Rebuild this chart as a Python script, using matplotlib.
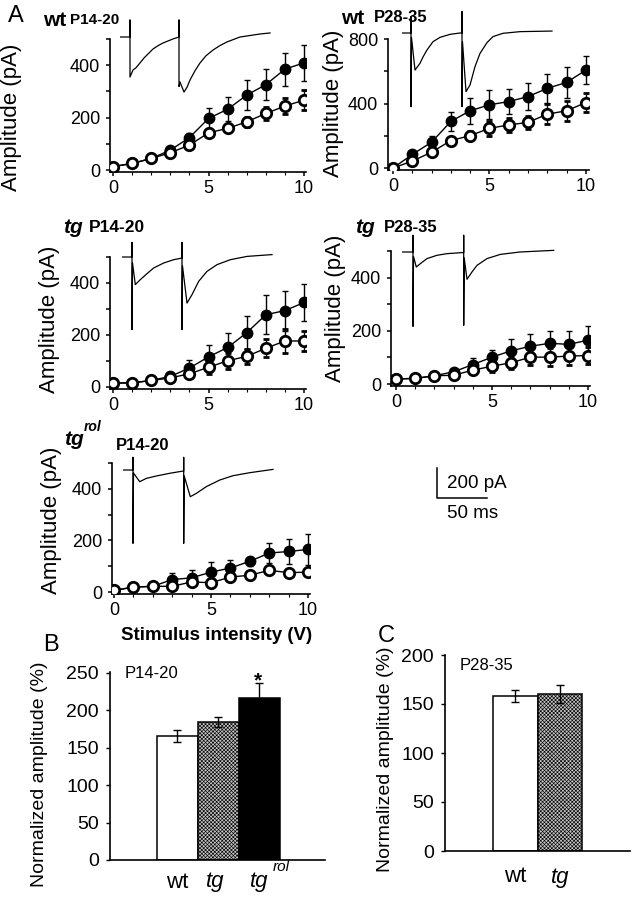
import numpy as np
import matplotlib.pyplot as plt

plt.rcParams['font.family'] = ['Liberation Sans', 'DejaVu Sans']
plt.rcParams['hatch.linewidth'] = 0.45

W, H = 636, 899

# stimulus intensity (V)
stim = np.arange(0, 11)

# panel A amplitudes (pA), filled and open symbols, with error bars
wt14_filled = [13, 25, 44, 76, 124, 197, 232, 286, 326, 385, 409]
wt14_filled_err = [3, 3, 4, 6, 16, 38, 45, 58, 60, 63, 70]
wt14_open = [13, 25, 44, 66, 95, 142, 159, 184, 216, 244, 267]
wt14_open_err = [2, 2, 3, 5, 8, 12, 15, 19, 25, 30, 38]

wt28_filled = [0, 84, 160, 289, 355, 392, 412, 443, 494, 531, 607]
wt28_filled_err = [3, 10, 37, 60, 82, 90, 80, 86, 90, 94, 86]
wt28_open = [0, 43, 98, 170, 201, 246, 267, 283, 334, 355, 406]
wt28_open_err = [2, 8, 12, 18, 28, 45, 45, 40, 60, 62, 60]

tg14_filled = [15, 16, 25, 41, 73, 116, 152, 209, 278, 294, 325]
tg14_filled_err = [2, 2, 4, 8, 30, 46, 57, 63, 76, 77, 72]
tg14_open = [15, 16, 25, 35, 51, 76, 101, 118, 149, 177, 177]
tg14_open_err = [2, 2, 3, 6, 12, 25, 30, 30, 35, 45, 40]

tg28_filled = [19, 21, 31, 46, 73, 101, 125, 142, 153, 149, 165]
tg28_filled_err = [2, 2, 3, 8, 25, 28, 44, 46, 47, 50, 53]
tg28_open = [19, 21, 31, 33, 52, 67, 80, 101, 101, 105, 107]
tg28_open_err = [2, 2, 3, 5, 10, 20, 25, 30, 35, 35, 33]

rol_filled = [6, 19, 22, 48, 55, 77, 93, 119, 151, 157, 165]
rol_filled_err = [2, 2, 3, 26, 31, 39, 30, 17, 39, 49, 61]
rol_open = [6, 19, 22, 22, 39, 36, 58, 65, 84, 75, 77]
rol_open_err = [2, 2, 3, 5, 10, 10, 10, 10, 12, 12, 10]

# example traces: time (ms), current (pA) relative to baseline
tr_wt14_t = [0, 10, 10, 10, 13, 16, 20, 24, 27, 33, 38, 43, 53, 59, 59, 59, 60, 64, 67, 70, 75, 80, 86, 93, 100, 107, 120, 140, 150]
tr_wt14_i = [0, 0, 113, -267, -220, -205, -173, -140, -120, -80, -58, -40, -13, 0, 113, -330, -300, -367, -335, -287, -225, -173, -125, -87, -57, -33, 0, 20, 27]
tr_wt28_t = [0, 9, 9, 9, 9.5, 13, 18, 21, 25, 31, 38, 48, 58, 60, 60, 60, 60.5, 64, 68, 73, 78, 85, 91, 101, 118, 150]
tr_wt28_i = [0, 0, 109, -491, -30, -247, -202, -160, -113, -58, -29, -9, 0, 0, 142, -491, -60, -391, -347, -224, -136, -64, -24, -2, 9, 13]
tr_tg14_t = [0, 10, 10, 10, 10.5, 13.3, 18.3, 25, 31.7, 41.7, 51.7, 60, 60, 60, 60.5, 65, 70, 76.7, 85, 95, 108.3, 125, 150]
tr_tg14_i = [0, 0, 97, -484, -40, -184, -151, -111, -73, -40, -18, -7, 97, -484, -60, -307, -251, -162, -96, -51, -18, 4, 16]
tr_tg28_t = [0, 11, 11, 11, 11.5, 14.3, 18.3, 25, 35, 45, 60, 61.7, 61.7, 61.7, 62.2, 65, 70, 75, 85, 98.3, 118, 151.7]
tr_tg28_i = [0, 0, 111, -496, -30, -100, -78, -44, -22, -11, -4, -4, 111, -489, -40, -182, -133, -89, -44, -16, 0, 11]
tr_rol_t = [0, 10, 10, 10, 10.5, 16.7, 23.3, 33.3, 46.7, 60, 60.7, 60.7, 60.7, 61.2, 67.3, 73.3, 83.3, 96.7, 110, 126.7, 150]
tr_rol_i = [0, 0, 84, -489, -20, -78, -56, -40, -22, -7, -7, 84, -489, -40, -178, -156, -111, -67, -38, -18, 4]

# panels B and C: normalized amplitude (%)
b_groups = ['wt', 'tg', 'tgrol']
b_vals = [166, 184, 216]
b_err = [8, 7, 20]
c_groups = ['wt', 'tg']
c_vals = [158.5, 160]
c_err = [6, 9]

fig = plt.figure(figsize=(W / 100, H / 100), dpi=100)


def px_axes(l, t, r, b):
    return fig.add_axes([l / W, 1 - b / H, (r - l) / W, (b - t) / H])


def px_text(x, y, s, **kw):
    kw.setdefault('ha', 'center')
    kw.setdefault('va', 'center')
    fig.text(x / W, 1 - y / H, s, **kw)


def curve_panel(box, xlim, ylim, step, lab_step, filled, ferr, opened, oerr):
    ax = px_axes(*box)
    ax.set_facecolor('none')
    ax.errorbar(stim, filled, yerr=ferr, fmt='-o', color='black', ms=7.5, lw=1,
                elinewidth=1, capsize=2.5, zorder=3)
    ax.errorbar(stim, opened, yerr=oerr, fmt='-o', color='black', mfc='white',
                mec='black', mew=2, ms=7.5, lw=1, elinewidth=1, capsize=2.5, zorder=4)
    ax.set_xlim(*xlim)
    ax.set_ylim(*ylim)
    for s in ['top', 'right']:
        ax.spines[s].set_visible(False)
    for s in ['left', 'bottom']:
        ax.spines[s].set_linewidth(1.2)
    yt = np.arange(0, ylim[1] + 1, step)
    ax.set_yticks(yt)
    ax.set_yticklabels([str(int(v)) if v % lab_step == 0 else '' for v in yt])
    ax.set_xticks([0, 5, 10])
    ax.set_xticks(stim, minor=True)
    ax.tick_params(axis='both', which='major', labelsize=13, length=3, width=1.1, pad=3)
    ax.tick_params(axis='x', which='minor', length=2, width=0.8)
    ax.tick_params(axis='y', pad=4)
    return ax


PX_PER_PA = 30 / 200


def trace_panel(x0, ybase, t, i):
    up, down, tw = 150, 620, 160
    ax = px_axes(x0, ybase - up * PX_PER_PA, x0 + tw, ybase + down * PX_PER_PA)
    ax.set_xlim(0, tw)
    ax.set_ylim(-down, up)
    ax.axis('off')
    ax.plot(t, i, color='black', lw=0.9)


curve_panel((110, 39, 306, 172), (-0.16, 10.1), (-7.6, 500), 100, 200,
            wt14_filled, wt14_filled_err, wt14_open, wt14_open_err)
curve_panel((388, 39, 589, 170), (-0.26, 10.16), (-12.4, 800), 200, 400,
            wt28_filled, wt28_filled_err, wt28_open, wt28_open_err)
curve_panel((110, 257, 306, 389), (-0.16, 10.1), (-7.7, 500), 100, 200,
            tg14_filled, tg14_filled_err, tg14_open, tg14_open_err)
curve_panel((391, 251, 590, 386), (-0.26, 10.1), (-7.5, 500), 100, 200,
            tg28_filled, tg28_filled_err, tg28_open, tg28_open_err)
curve_panel((112, 463, 310, 594), (-0.1, 10.1), (-7.75, 500), 100, 200,
            rol_filled, rol_filled_err, rol_open, rol_open_err)

trace_panel(120, 37, tr_wt14_t, tr_wt14_i)
trace_panel(402, 33, tr_wt28_t, tr_wt28_i)
trace_panel(122, 257, tr_tg14_t, tr_tg14_i)
trace_panel(402, 252, tr_tg28_t, tr_tg28_i)
trace_panel(123, 470, tr_rol_t, tr_rol_i)

# scale bar 200 pA / 50 ms
sb = px_axes(437, 498 - 200 * PX_PER_PA, 487, 498)
sb.set_xlim(0, 50)
sb.set_ylim(0, 200)
sb.axis('off')
sb.plot([0, 0, 50], [200, 0, 0], color='black', lw=1.1, clip_on=False)
px_text(447, 483, '200 pA', ha='left', fontsize=13.5)
px_text(447, 514, '50 ms', ha='left', fontsize=13.5)

# panel A labels
px_text(16, 16, 'A', fontsize=17)
px_text(55, 20, 'wt', fontsize=15, fontweight='bold')
px_text(95, 20, 'P14-20', fontsize=11, fontweight='bold')
px_text(353, 18, 'wt', fontsize=15, fontweight='bold')
px_text(401, 17, 'P28-35', fontsize=12, fontweight='bold')
px_text(73, 227, 'tg', fontsize=15, fontweight='bold', style='italic')
px_text(117, 227, 'P14-20', fontsize=12.5, fontweight='bold')
px_text(365, 227, 'tg', fontsize=15, fontweight='bold', style='italic')
px_text(411, 228, 'P28-35', fontsize=12, fontweight='bold')
px_text(74, 440, 'tg', fontsize=15, fontweight='bold', style='italic')
px_text(93, 427, 'rol', fontsize=10, fontweight='bold', style='italic')
px_text(143, 446, 'P14-20', fontsize=12, fontweight='bold')
for x, y in [(12, 117), (334, 103), (50, 319), (335, 308), (52, 520)]:
    px_text(x, y, 'Amplitude (pA)', fontsize=16, rotation=90)
px_text(217, 635, 'Stimulus intensity (V)', fontsize=13.5, fontweight='bold')


def bar_panel(box, xlim, ylim, vals, err, faces, hatches):
    ax = px_axes(*box)
    pos = np.arange(len(vals))
    for p, v, e, fc, h in zip(pos, vals, err, faces, hatches):
        ax.bar(p, v, width=1.0, color=fc, edgecolor='black', linewidth=1.1, hatch=h, zorder=2)
        ax.errorbar(p, v, yerr=e, color='black', elinewidth=1, capsize=3, capthick=1, zorder=3)
    ax.set_xlim(*xlim)
    ax.set_ylim(*ylim)
    for s in ['top', 'right']:
        ax.spines[s].set_visible(False)
    for s in ['left', 'bottom']:
        ax.spines[s].set_linewidth(1.2)
    ax.set_xticks([])
    ax.set_yticks(np.arange(0, ylim[1] + 1, 50))
    ax.tick_params(axis='y', labelsize=14, length=3, width=1, pad=5)
    return ax


axb = bar_panel((110, 672, 325, 860), (-1.646, 3.598), (0, 250.7), b_vals, b_err,
                ['white', '#c4c4c4', 'black'], ['', 'xxxxxxxxx', ''])
axc = bar_panel((445, 655, 630, 851), (-1.584, 2.573), (0, 200), c_vals, c_err,
                ['white', '#c4c4c4'], ['', 'xxxxxxxxx'])

px_text(51, 645, 'B', fontsize=17)
px_text(40, 774, 'Normalized amplitude (%)', fontsize=14, rotation=90)
px_text(152, 673, 'P14-20', fontsize=12)
px_text(258, 681, '*', fontsize=15, fontweight='bold')
px_text(177, 882, 'wt', fontsize=16)
px_text(215, 882, 'tg', fontsize=16, style='italic')
px_text(259, 882, 'tg', fontsize=16, style='italic')
px_text(281, 867, 'rol', fontsize=11, style='italic')

px_text(386, 636, 'C', fontsize=17)
px_text(386, 759, 'Normalized amplitude (%)', fontsize=14, rotation=90)
px_text(486, 665, 'P28-35', fontsize=12)
px_text(515, 877, 'wt', fontsize=16)
px_text(560, 877, 'tg', fontsize=16, style='italic')

fig.savefig('out.png', dpi=100)
